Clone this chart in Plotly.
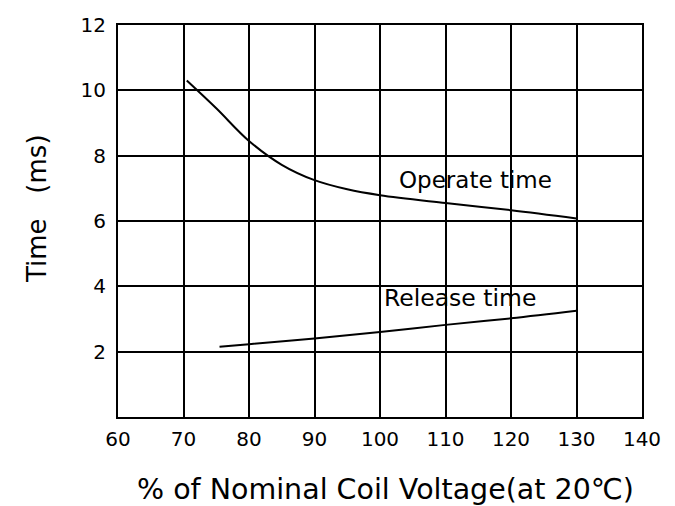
import plotly.graph_objects as go

# Data
operate_x = [70.5, 75, 80, 85, 90, 95, 100, 110, 120, 130]
operate_y = [10.3, 9.45, 8.45, 7.72, 7.25, 6.97, 6.79, 6.55, 6.33, 6.08]
release_x = [75.5, 80, 90, 100, 110, 120, 130]
release_y = [2.15, 2.23, 2.4, 2.6, 2.82, 3.02, 3.25]

x_ticks = [60, 70, 80, 90, 100, 110, 120, 130, 140]
y_ticks = [2, 4, 6, 8, 10, 12]

FONT = "DejaVu Sans"

fig = go.Figure()
fig.add_trace(go.Scatter(x=operate_x, y=operate_y, mode="lines",
                         line=dict(color="black", width=2, shape="spline"),
                         showlegend=False, hoverinfo="skip"))
fig.add_trace(go.Scatter(x=release_x, y=release_y, mode="lines",
                         line=dict(color="black", width=2, shape="spline"),
                         showlegend=False, hoverinfo="skip"))

fig.add_annotation(x=114.6, y=7.25, text="Operate time", showarrow=False,
                   font=dict(family=FONT, size=23, color="black"),
                   xanchor="center", yanchor="middle")
fig.add_annotation(x=112.2, y=3.64, text="Release time", showarrow=False,
                   font=dict(family=FONT, size=23.5, color="black"),
                   xanchor="center", yanchor="middle")

# axis titles as annotations for exact placement
fig.add_annotation(xref="paper", yref="paper", x=-0.1546, y=0.533,
                   text="Time&nbsp;&nbsp;&nbsp;(ms)", textangle=-90, showarrow=False,
                   font=dict(family=FONT, size=26, color="black"),
                   xanchor="center", yanchor="middle")
fig.add_annotation(xref="paper", yref="paper", x=0.5105, y=-0.185,
                   text="% of Nominal Coil Voltage(at 20℃)", showarrow=False,
                   font=dict(family=FONT, size=28.5, color="black"),
                   xanchor="center", yanchor="middle")

fig.update_layout(
    width=675, height=506,
    margin=dict(l=118, r=33, t=25, b=89),
    paper_bgcolor="white", plot_bgcolor="white",
    font=dict(family=FONT, color="black"),
    hovermode=False,
    xaxis=dict(range=[60, 140], tickvals=x_ticks, ticktext=[str(v) for v in x_ticks],
               showgrid=True, gridcolor="black", gridwidth=2,
               showline=True, linecolor="black", linewidth=2, mirror=True,
               ticks="outside", ticklen=3, tickcolor="rgba(0,0,0,0)",
               tickfont=dict(family=FONT, size=20, color="black"),
               zeroline=False, fixedrange=True),
    yaxis=dict(range=[0, 12], tickvals=y_ticks, ticktext=[str(v) for v in y_ticks],
               showgrid=True, gridcolor="black", gridwidth=2,
               showline=True, linecolor="black", linewidth=2, mirror=True,
               ticks="outside", ticklen=6, tickcolor="rgba(0,0,0,0)",
               tickfont=dict(family=FONT, size=20, color="black"),
               zeroline=False, fixedrange=True),
)

fig.write_html("out.html",
               config={"displayModeBar": False, "staticPlot": True},
               post_script="document.body.style.margin='0';document.body.style.overflow='hidden';")
